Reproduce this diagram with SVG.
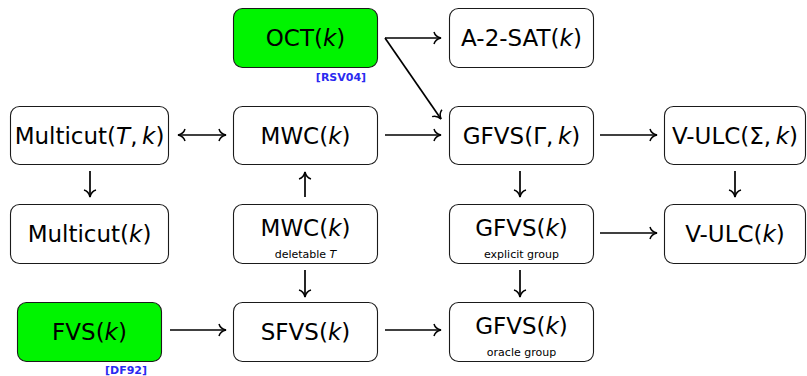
<svg xmlns="http://www.w3.org/2000/svg" width="807" height="376" viewBox="0 0 807 376">
  <style>
    .box { fill: #ffffff; stroke: #1a1a1a; stroke-width: 1.1; }
    .hl { fill: #00f400; }
    .t { font-family: "DejaVu Sans", "Liberation Sans", sans-serif; font-size: 23px; text-anchor: middle; fill: #000000; }
    .s { font-family: "DejaVu Sans", "Liberation Sans", sans-serif; font-size: 11px; text-anchor: middle; fill: #000000; }
    .m { font-style: italic; }
    .ref { font-family: "DejaVu Sans", "Liberation Sans", sans-serif; font-size: 11px; font-weight: bold; fill: #2a2af0; text-anchor: middle; }
    .e { fill: none; stroke: #000000; stroke-width: 1.7; }
  </style>
  <defs>
    <marker id="to" viewBox="-9 -7 11 14" markerWidth="11" markerHeight="14" refX="0" refY="0" orient="auto" markerUnits="userSpaceOnUse">
      <path d="M-7,-6 C-6,-2.5 -2.5,-0.6 0,0 C-2.5,0.6 -6,2.5 -7,6" fill="none" stroke="#000000" stroke-width="1.5"/>
    </marker>
    <marker id="from" viewBox="-2 -7 11 14" markerWidth="11" markerHeight="14" refX="0" refY="0" orient="auto" markerUnits="userSpaceOnUse">
      <path d="M7,-6 C6,-2.5 2.5,-0.6 0,0 C2.5,0.6 6,2.5 7,6" fill="none" stroke="#000000" stroke-width="1.5"/>
    </marker>
  </defs>

  <g id="edges">
    <path class="e" d="M385,38 H441" marker-end="url(#to)"/>
    <path class="e" d="M385,38 L441,119" marker-end="url(#to)"/>
    <path class="e" d="M178,135 H226" marker-start="url(#from)" marker-end="url(#to)"/>
    <path class="e" d="M385,135 H441" marker-end="url(#to)"/>
    <path class="e" d="M600,135 H657" marker-end="url(#to)"/>
    <path class="e" d="M90,171 V197" marker-end="url(#to)"/>
    <path class="e" d="M305,197 V172" marker-end="url(#to)"/>
    <path class="e" d="M520,171 V197" marker-end="url(#to)"/>
    <path class="e" d="M735,171 V197" marker-end="url(#to)"/>
    <path class="e" d="M600,233 H657" marker-end="url(#to)"/>
    <path class="e" d="M305,270 V297" marker-end="url(#to)"/>
    <path class="e" d="M520,270 V297" marker-end="url(#to)"/>
    <path class="e" d="M170,330 H226" marker-end="url(#to)"/>
    <path class="e" d="M385,330 H441" marker-end="url(#to)"/>
  </g>

  <g id="oct">
    <rect class="box hl" x="233.5" y="8.5" width="144" height="59" rx="9"/>
    <text class="t" x="305.5" y="46">OCT(<tspan class="m">k</tspan>)</text>
    <text class="ref" x="341" y="81">[RSV04]</text>
  </g>
  <g id="a2sat">
    <rect class="box" x="449.5" y="8.5" width="144" height="59" rx="9"/>
    <text class="t" x="521.5" y="46">A-2-SAT(<tspan class="m">k</tspan>)</text>
  </g>

  <g id="multicut-tk">
    <rect class="box" x="10.5" y="106.5" width="158" height="58" rx="9"/>
    <text class="t" x="89.5" y="144">Multicut(<tspan class="m">T</tspan>,&#8201;<tspan class="m">k</tspan>)</text>
  </g>
  <g id="mwc">
    <rect class="box" x="233.5" y="106.5" width="144" height="58" rx="9"/>
    <text class="t" x="305.5" y="144">MWC(<tspan class="m">k</tspan>)</text>
  </g>
  <g id="gfvs-gamma">
    <rect class="box" x="449.5" y="106.5" width="144" height="58" rx="9"/>
    <text class="t" x="521.5" y="144">GFVS(Γ,&#8201;<tspan class="m">k</tspan>)</text>
  </g>
  <g id="vulc-sigma">
    <rect class="box" x="664.5" y="106.5" width="141" height="58" rx="9"/>
    <text class="t" x="735" y="144">V-ULC(Σ,&#8201;<tspan class="m">k</tspan>)</text>
  </g>

  <g id="multicut">
    <rect class="box" x="10.5" y="204.5" width="158" height="59" rx="9"/>
    <text class="t" x="89.5" y="242">Multicut(<tspan class="m">k</tspan>)</text>
  </g>
  <g id="mwc-deletable">
    <rect class="box" x="233.5" y="204.5" width="144" height="59" rx="9"/>
    <text class="t" x="305.5" y="236">MWC(<tspan class="m">k</tspan>)</text>
    <text class="s" x="305.5" y="258">deletable <tspan class="m">T</tspan></text>
  </g>
  <g id="gfvs-explicit">
    <rect class="box" x="449.5" y="204.5" width="144" height="59" rx="9"/>
    <text class="t" x="521.5" y="236">GFVS(<tspan class="m">k</tspan>)</text>
    <text class="s" x="521.5" y="258">explicit group</text>
  </g>
  <g id="vulc">
    <rect class="box" x="664.5" y="204.5" width="141" height="59" rx="9"/>
    <text class="t" x="735" y="242">V-ULC(<tspan class="m">k</tspan>)</text>
  </g>

  <g id="fvs">
    <rect class="box hl" x="17.5" y="302.5" width="144" height="59" rx="9"/>
    <text class="t" x="89.5" y="340">FVS(<tspan class="m">k</tspan>)</text>
    <text class="ref" x="126" y="374">[DF92]</text>
  </g>
  <g id="sfvs">
    <rect class="box" x="233.5" y="302.5" width="144" height="59" rx="9"/>
    <text class="t" x="305.5" y="340">SFVS(<tspan class="m">k</tspan>)</text>
  </g>
  <g id="gfvs-oracle">
    <rect class="box" x="449.5" y="302.5" width="144" height="59" rx="9"/>
    <text class="t" x="521.5" y="334">GFVS(<tspan class="m">k</tspan>)</text>
    <text class="s" x="521.5" y="356">oracle group</text>
  </g>
</svg>
